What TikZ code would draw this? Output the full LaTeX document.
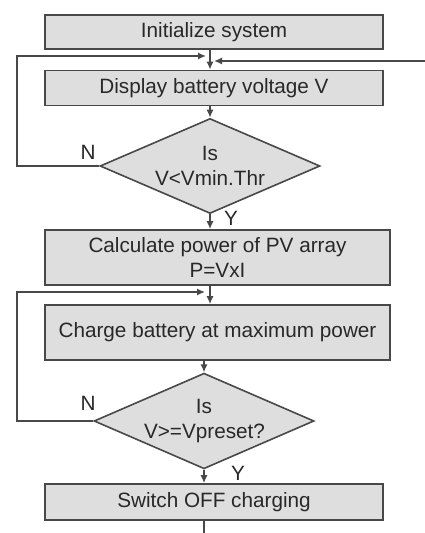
\documentclass[tikz,border=0pt]{standalone}
\usepackage{fontspec}
\setmainfont{Liberation Sans}
\usetikzlibrary{arrows.meta,shapes.geometric,positioning,calc}
\definecolor{boxfill}{RGB}{222,222,222}
\definecolor{edgegray}{RGB}{72,72,72}
\definecolor{txtgray}{RGB}{40,40,40}

\begin{document}
\begin{tikzpicture}[x=0.5bp,y=-0.5bp,>={Latex[length=4bp,width=3.6bp]},
  font=\fontsize{10.4}{12.5}\selectfont,
  stepbox/.style={draw=edgegray,line width=0.8bp,fill=boxfill,text=txtgray,
                  inner sep=0pt,align=center},
  testbox/.style={diamond,draw=edgegray,line width=0.8bp,fill=boxfill,text=txtgray,
                  inner sep=0pt,align=center,text width=60bp,aspect=2.3,
                  minimum width=110bp,minimum height=47.5bp},
  flow/.style={edgegray,line width=0.8bp},
  answer/.style={text=txtgray,inner sep=0pt}]
\useasboundingbox (0,0) rectangle (425,533);
% ================= first stage: monitor voltage =================
\node[stepbox,minimum width=169bp,minimum height=17bp] (init) at (214,32)
  {Initialize system};
\node[stepbox,minimum width=169bp,minimum height=17.5bp] (disp) at (214,88)
  {Display battery voltage V};
\node[testbox] (vmin) at (210,166) {Is\\V<Vmin.Thr};
\node[answer] (n1) at (88,152) {N};
\node[answer] (y1) at (231,218) {Y};
\coordinate (loopA) at (17,56);
\coordinate (feedin) at (425,61);
\draw[flow,->] (init.south -| vmin.north) -- (disp.north -| vmin.north);
\draw[flow,->] (feedin) -- ($(feedin -| vmin.north)+(4,0)$);
\draw[flow,->] (disp.south -| vmin.north) -- (vmin.north);
% N: back to display
\draw[flow,->] (vmin.west) -| (loopA) -- ($(loopA -| vmin.north)+(-4,0)$);
% ================= second stage: charging =================
\node[stepbox,minimum width=172.5bp,minimum height=27.5bp] (pv) at (217.5,257.5)
  {Calculate power of PV array\\P=VxI};
\node[stepbox,minimum width=172.5bp,minimum height=27.5bp] (chg) at (217.5,332.5)
  {Charge battery at maximum power};
\node[testbox,minimum width=109bp] (vpre) at (204,421) {Is\\V>=Vpreset?};
\node[answer] (n2) at (88,403) {N};
\node[answer] (y2) at (238,473) {Y};
\node[stepbox,minimum width=169bp,minimum height=18bp] (off) at (214,502)
  {Switch OFF charging};
\coordinate (loopB) at (17,292);
\coordinate (exit) at (204,533);
\draw[flow,->] (vmin.south) -- (pv.north -| vmin.south);
\draw[flow,->] (pv.south -| vmin.south) -- (chg.north -| vmin.south);
\draw[flow,->] (chg.south -| vpre.north) -- (vpre.north);
% N: keep charging
\draw[flow,->] (vpre.west) -| (loopB) -- ($(loopB -| vmin.south)+(-5,0)$);
\draw[flow,->] (vpre.south) -- (off.north -| vpre.south);
\draw[flow] (off.south -| exit) -- (exit);
\end{tikzpicture}
\end{document}
